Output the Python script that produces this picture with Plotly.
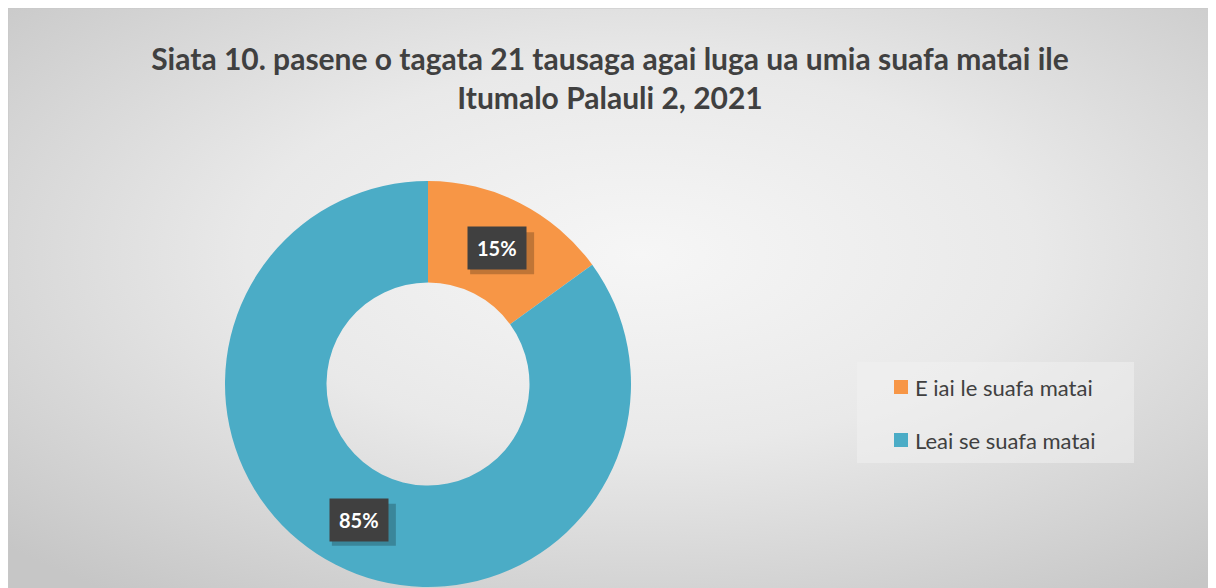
import math, base64
import plotly.graph_objects as go

W, H = 1216, 588
OFF = 8  # page body margin in the screenshot

categories = ["E iai le suafa matai", "Leai se suafa matai"]
values = [15, 85]
colors = ["#F79646", "#4BACC6"]
title_text = "Siata 10. pasene o tagata 21 tausaga agai luga ua umia suafa matai ile<br>Itumalo Palauli 2, 2021"

def px(x):
    return (x - OFF) / W

def py(y):
    return 1 - (y - OFF) / H

# chart geometry (screen pixels)
dom_left, dom_right = 225, 631
dom_top, dom_bottom = 181, 587
hole = 0.5

svg = ("<svg xmlns='http://www.w3.org/2000/svg' width='1216' height='588' viewBox='0 0 1216 588' preserveAspectRatio='none'>"
       "<defs><radialGradient id='g' cx='52%' cy='42%' r='72%'>"
       "<stop offset='0' stop-color='#f6f6f6'/><stop offset='0.45' stop-color='#e9e9e9'/><stop offset='1' stop-color='#c6c6c6'/>"
       "</radialGradient></defs><rect width='1216' height='588' fill='url(#g)'/></svg>")
bg_src = "data:image/svg+xml;base64," + base64.b64encode(svg.encode()).decode()

fig = go.Figure()
fig.add_trace(go.Pie(
    labels=categories, values=values, hole=hole, sort=False, direction="clockwise",
    rotation=0, marker=dict(colors=colors, line=dict(width=0)),
    textinfo="none", hoverinfo="label+percent", showlegend=False,
    domain=dict(x=[px(dom_left), px(dom_right)], y=[py(dom_bottom), py(dom_top)]),
))

# data labels at slice centroids
cx = (dom_left + dom_right) / 2
cy = (dom_top + dom_bottom) / 2
R = min(dom_right - dom_left, dom_bottom - dom_top) / 2
rm = (R + R * hole) / 2
total = sum(values)
cum = 0
annotations = []
shapes = [
    dict(type="rect", xref="paper", yref="paper", x0=0, x1=1, y0=0, y1=1,
         line=dict(color="#c8c8c8", width=1), fillcolor="rgba(0,0,0,0)", layer="below"),
    dict(type="rect", xref="paper", yref="paper", x0=px(857), x1=px(1134), y0=py(463), y1=py(362),
         line=dict(width=0), fillcolor="rgba(240,240,240,0.55)", layer="below"),
]
for v in values:
    mid = (cum + v / 2) / total * 2 * math.pi
    cum += v
    lx = cx + rm * math.sin(mid)
    ly = cy - rm * math.cos(mid)
    label = f"<b>{round(v / total * 100)}%</b>"
    # drop shadow
    shapes.append(dict(type="rect", xref="paper", yref="paper", xsizemode="pixel", ysizemode="pixel",
                       xanchor=px(lx), yanchor=py(ly), x0=-27, x1=37, y0=-26, y1=16,
                       line=dict(width=0), fillcolor="rgba(0,0,0,0.22)", layer="above"))
    annotations.append(dict(x=px(lx), y=py(ly), xref="paper", yref="paper", text=label,
                            showarrow=False, xanchor="center", yanchor="middle",
                            font=dict(family="Lato", size=20, color="white"),
                            bgcolor="#404040", borderpad=9))

# manual legend
leg_y = [387, 440]
for name, col, yy in zip(categories, colors, leg_y):
    shapes.append(dict(type="rect", xref="paper", yref="paper", x0=px(894), x1=px(908),
                       y0=py(yy + 7), y1=py(yy - 7), line=dict(width=0), fillcolor=col))
    annotations.append(dict(x=px(913), y=py(yy), xref="paper", yref="paper", text=name,
                            showarrow=False, xanchor="left", yanchor="middle",
                            font=dict(family="Lato", size=22, color="#404040")))

fig.update_layout(
    width=W, height=H, margin=dict(l=0, r=0, t=0, b=0),
    paper_bgcolor="white",
    title=dict(text="<b>" + title_text + "</b>", x=px(610), xanchor="center",
               y=py(70), yanchor="middle", yref="paper",
               font=dict(family="Lato", size=30, color="#404040")),
    images=[dict(source=bg_src, xref="paper", yref="paper", x=0, y=1,
                 sizex=1, sizey=1, sizing="stretch",
                 xanchor="left", yanchor="top", layer="below")],
    shapes=shapes, annotations=annotations,
)

fig.write_html("out.html")
